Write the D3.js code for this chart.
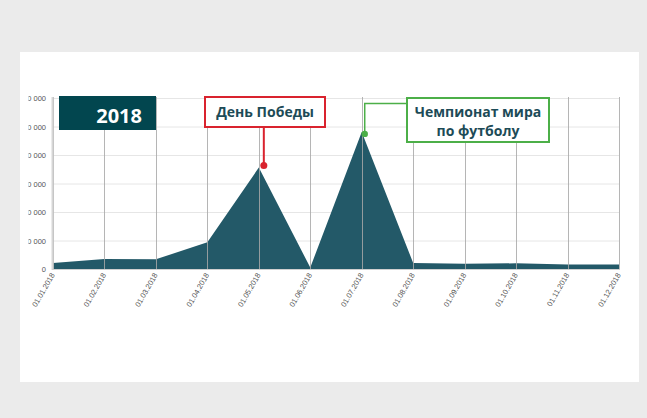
<!DOCTYPE html>
<html><head><meta charset="utf-8">
<script src="https://cdn.jsdelivr.net/npm/d3@7"></script>
<style>
html,body{margin:0;padding:0;background:#ebebeb;}
svg{display:block;}
</style></head>
<body>
<svg id="c" width="647" height="418"></svg>
<script>
const categories = ["01.01.2018","01.02.2018","01.03.2018","01.04.2018","01.05.2018","01.06.2018","01.07.2018","01.08.2018","01.09.2018","01.10.2018","01.11.2018","01.12.2018"];
const values = [2100, 3500, 3400, 9400, 35600, 500, 48100, 2100, 1800, 2000, 1600, 1600];
const yTicks = [0, 10000, 20000, 30000, 40000, 50000, 60000];
const yearLabel = "2018";
const events = [
  {date: "01.05.2018", lines: ["День Победы"]},
  {date: "01.07.2018", lines: ["Чемпионат мира", "по футболу"]}
];

const svg = d3.select("#c");
svg.append("rect").attr("x",20).attr("y",52).attr("width",619).attr("height",330).attr("fill","#fff");

const x = d3.scalePoint().domain(categories).range([53, 619]);
const y = d3.scaleLinear().domain([0, 60000]).range([269, 98]);

const defs = svg.append("defs");
defs.append("clipPath").attr("id","yclip").append("rect").attr("x",28.5).attr("y",80).attr("width",40).attr("height",200);

// horizontal grid
svg.append("g").selectAll("line").data(yTicks).join("line")
  .attr("x1",53).attr("x2",619).attr("y1",d=>y(d)+0.5).attr("y2",d=>y(d)+0.5)
  .attr("stroke","#e6e6e6").attr("stroke-width",1);

// y labels
svg.append("g").attr("clip-path","url(#yclip)").selectAll("text").data(yTicks).join("text")
  .attr("x",46).attr("y",d=>y(d)+3)
  .attr("text-anchor","end").attr("font-family","Liberation Sans, Arial, sans-serif")
  .attr("font-size",7.5).attr("fill","#555")
  .text(d=>d3.format(",")(d).replace(/,/g," "));

// area
const area = d3.area().x((d,i)=>x(categories[i])).y0(y(0)).y1(d=>y(d));
svg.append("path").datum(values).attr("d",area).attr("fill","#235968");

// vertical grid (on top)
svg.append("g").selectAll("line").data(categories).join("line")
  .attr("x1",d=>Math.round(x(d))+0.5).attr("x2",d=>Math.round(x(d))+0.5)
  .attr("y1",97).attr("y2",269)
  .attr("stroke","#a8a8a8").attr("stroke-opacity",0.85).attr("stroke-width",1);
// left axis line
svg.append("line").attr("x1",52.5).attr("x2",52.5).attr("y1",97).attr("y2",270)
  .attr("stroke","#d6d6d6").attr("stroke-width",2);
// baseline
svg.append("line").attr("x1",52).attr("x2",620).attr("y1",269.5).attr("y2",269.5)
  .attr("stroke","#d0d0d0").attr("stroke-width",1);

// x labels
svg.append("g").selectAll("text").data(categories).join("text")
  .attr("transform",d=>`translate(${x(d)+2},${275}) rotate(-60)`)
  .attr("text-anchor","end").attr("font-family","Liberation Sans, Arial, sans-serif")
  .attr("font-size",7.5).attr("fill","#555")
  .text(d=>d);

// year box
svg.append("rect").attr("x",59).attr("y",96).attr("width",97).attr("height",34).attr("fill","#02464f");
svg.append("text").attr("x",142).attr("y",123).attr("text-anchor","end")
  .attr("font-family","Open Sans, sans-serif").attr("font-weight","bold").attr("font-size",20)
  .attr("fill","#fff").text(yearLabel);

// event 1: День Победы
{
  const e = events[0];
  const px = x(e.date), py = y(values[categories.indexOf(e.date)]);
  const dx = px + 5, dy = py - 2;
  svg.append("line").attr("x1",dx).attr("x2",dx).attr("y1",127).attr("y2",dy).attr("stroke","#d9232e").attr("stroke-width",2);
  svg.append("circle").attr("cx",dx).attr("cy",dy).attr("r",3.5).attr("fill","#d9232e");
  svg.append("rect").attr("x",205).attr("y",97).attr("width",120).attr("height",30)
    .attr("fill","#fff").attr("stroke","#d9232e").attr("stroke-width",2);
  svg.append("text").attr("x",265).attr("y",117).attr("text-anchor","middle")
    .attr("font-family","Open Sans, sans-serif").attr("font-weight","bold").attr("font-size",14)
    .attr("fill","#1d4b57").text(e.lines[0]);
}
// event 2: Чемпионат мира
{
  const e = events[1];
  const px = x(e.date), py = y(values[categories.indexOf(e.date)]);
  const dx = px + 3, dy = py + 2;
  svg.append("path").attr("d",`M${dx},${dy} V103.5 H406`).attr("fill","none").attr("stroke","#4caf48").attr("stroke-width",1.5);
  svg.append("circle").attr("cx",dx).attr("cy",dy).attr("r",3.2).attr("fill","#4caf48");
  svg.append("rect").attr("x",407).attr("y",98).attr("width",142).attr("height",44)
    .attr("fill","#fff").attr("stroke","#4caf48").attr("stroke-width",2);
  svg.append("text").attr("x",478).attr("y",117).attr("text-anchor","middle")
    .attr("font-family","Open Sans, sans-serif").attr("font-weight","bold").attr("font-size",14)
    .attr("fill","#1d4b57").text(e.lines[0]);
  svg.append("text").attr("x",478).attr("y",136).attr("text-anchor","middle")
    .attr("font-family","Open Sans, sans-serif").attr("font-weight","bold").attr("font-size",14)
    .attr("fill","#1d4b57").text(e.lines[1]);
}
</script>
</body></html>
